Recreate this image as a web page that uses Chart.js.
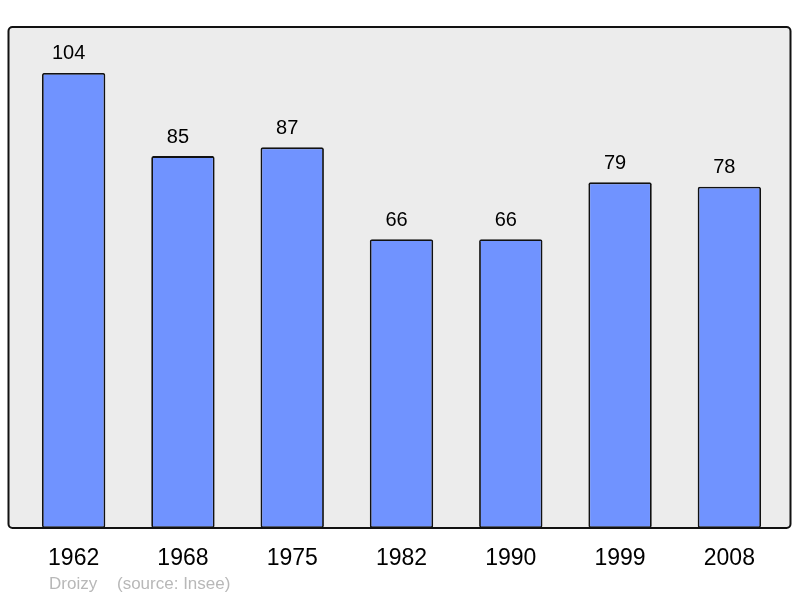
<!DOCTYPE html>
<html lang="fr">
  <head>
    <meta charset="UTF-8" />
    <title>Droizy - population</title>
    <script src="https://cdn.jsdelivr.net/npm/chart.js@4/dist/chart.umd.min.js"></script>
    <style>
      html, body { margin: 0; padding: 0; background: #fff; }
      #wrap { width: 800px; height: 598px; }
    </style>
  </head>
  <body>
    <div id="wrap"><canvas id="myChart" width="800" height="598"></canvas></div>
    <script>
      // data
      const years = ["1962", "1968", "1975", "1982", "1990", "1999", "2008"];
      const population = [104, 85, 87, 66, 66, 79, 78];
      const placeName = "Droizy";
      const sourceText = "(source: Insee)";

      const FONT = "'Liberation Sans', Arial, sans-serif";

      // grey frame behind the bars
      const framePlugin = {
        id: "frame",
        beforeDraw(chart) {
          const c = chart.ctx;
          c.save();
          c.beginPath();
          c.roundRect(8.5, 27, 782, 501, 4);
          c.fillStyle = "#ececec";
          c.fill();
          c.restore();
        },
        afterDatasetsDraw(chart) {
          const c = chart.ctx;
          c.save();
          c.beginPath();
          c.roundRect(8.5, 27, 782, 501, 4);
          c.lineWidth = 2;
          c.strokeStyle = "#111";
          c.stroke();
          c.restore();
        },
        afterDraw(chart) {
          const c = chart.ctx;
          c.save();
          // value labels above the bars (sit a little left of centre, as in the original)
          const meta = chart.getDatasetMeta(0);
          c.font = "20px " + FONT;
          c.fillStyle = "#000";
          c.textAlign = "center";
          c.textBaseline = "middle";
          meta.data.forEach((bar, i) => {
            c.fillText(String(population[i]), bar.x - 5, bar.y - 19);
          });
          // footer
          c.font = "17px " + FONT;
          c.fillStyle = "#b8b8b8";
          c.textAlign = "left";
          c.fillText(placeName, 49, 584);
          c.fillText(sourceText, 117, 584);
          c.restore();
        },
      };

      new Chart(document.getElementById("myChart"), {
        type: "bar",
        data: {
          labels: years,
          datasets: [
            {
              data: population,
              backgroundColor: "#7093ff",
              borderColor: "#111",
              borderWidth: 1.8,
              borderRadius: 2,
              borderSkipped: false,
              barPercentage: 0.58,
              categoryPercentage: 1,
            },
          ],
        },
        options: {
          responsive: false,
          animation: false,
          layout: { padding: { left: 19, right: 16, top: 27, bottom: 30 } },
          plugins: {
            legend: { display: false },
            tooltip: { enabled: false },
          },
          scales: {
            x: {
              grid: { display: false, drawTicks: false },
              border: { display: false },
              afterFit(scale) {
                scale.height = 40;
              },
              ticks: {
                color: "#000",
                padding: 17,
                font: { size: 23, family: FONT },
              },
            },
            y: {
              display: false,
              min: 0,
              max: 114.5,
            },
          },
        },
        plugins: [framePlugin],
      });
    </script>
  </body>
</html>
